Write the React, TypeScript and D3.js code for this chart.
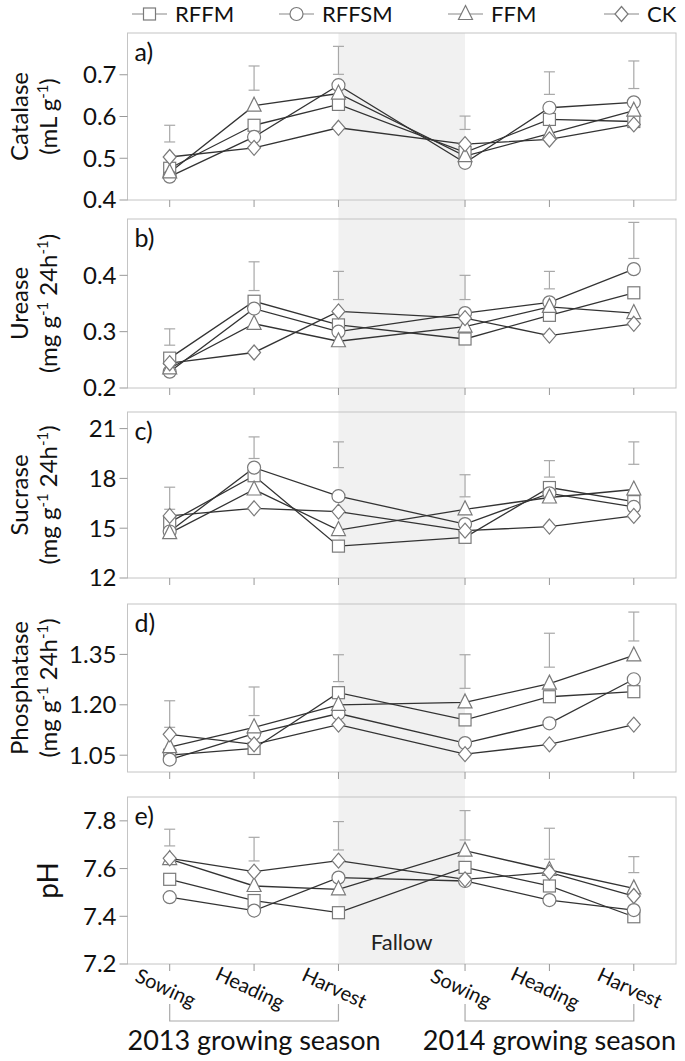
import React from 'react';
import * as d3 from 'd3';

const seriesNames = ['RFFM', 'RFFSM', 'FFM', 'CK'];
const stageLabels = ['Sowing', 'Heading', 'Harvest', 'Sowing', 'Heading', 'Harvest'];
const stagePos = [0, 1, 2, 3.5, 4.5, 5.5];
const seasonLabels = ['2013 growing season', '2014 growing season'];
const fallowLabel = 'Fallow';

// a) Catalase
const catalaseRFFM = [0.476, 0.579, 0.629, 0.514, 0.593, 0.588];
const catalaseRFFSM = [0.456, 0.551, 0.675, 0.489, 0.621, 0.634];
const catalaseFFM = [0.466, 0.626, 0.655, 0.505, 0.559, 0.614];
const catalaseCK = [0.503, 0.525, 0.573, 0.534, 0.545, 0.581];
const catalaseErrLow = [0.539, 0.663, 0.701, 0.569, 0.653, 0.667];
const catalaseErrHigh = [0.579, 0.721, 0.768, 0.601, 0.707, 0.733];
const catalaseTicks = ['0.4', '0.5', '0.6', '0.7'];

// b) Urease
const ureaseRFFM = [0.253, 0.354, 0.312, 0.287, 0.329, 0.369];
const ureaseRFFSM = [0.229, 0.341, 0.300, 0.333, 0.352, 0.411];
const ureaseFFM = [0.235, 0.314, 0.283, 0.309, 0.344, 0.333];
const ureaseCK = [0.244, 0.263, 0.336, 0.324, 0.293, 0.314];
const ureaseErrLow = [0.276, 0.373, 0.357, 0.357, 0.376, 0.430];
const ureaseErrHigh = [0.305, 0.424, 0.407, 0.400, 0.407, 0.494];
const ureaseTicks = ['0.2', '0.3', '0.4'];

// c) Sucrase
const sucraseRFFM = [15.35, 18.16, 13.92, 14.45, 17.45, 16.6];
const sucraseRFFSM = [14.8, 18.65, 16.93, 15.25, 17.1, 16.28];
const sucraseFFM = [14.7, 17.33, 14.89, 16.14, 16.85, 17.33];
const sucraseCK = [15.74, 16.2, 16.0, 14.85, 15.1, 15.74];
const sucraseErrLow = [16.14, 19.2, 18.65, 16.89, 18.08, 18.85];
const sucraseErrHigh = [17.47, 20.5, 20.2, 18.22, 19.07, 20.2];
const sucraseTicks = ['12', '15', '18', '21'];

// d) Phosphatase
const phosRFFM = [1.05, 1.07, 1.236, 1.155, 1.224, 1.239];
const phosRFFSM = [1.037, 1.114, 1.174, 1.086, 1.145, 1.276];
const phosFFM = [1.074, 1.133, 1.2, 1.207, 1.263, 1.347];
const phosCK = [1.112, 1.082, 1.141, 1.053, 1.082, 1.141];
const phosErrLow = [1.133, 1.168, 1.269, 1.249, 1.312, 1.39];
const phosErrHigh = [1.212, 1.253, 1.349, 1.349, 1.413, 1.476];
const phosTicks = ['1.05', '1.20', '1.35'];

// e) pH
const phRFFM = [7.555, 7.466, 7.415, 7.605, 7.527, 7.398];
const phRFFSM = [7.48, 7.424, 7.562, 7.548, 7.468, 7.426];
const phFFM = [7.64, 7.527, 7.513, 7.675, 7.594, 7.517];
const phCK = [7.643, 7.587, 7.633, 7.555, 7.584, 7.485];
const phErrLow = [7.695, 7.632, 7.678, 7.72, 7.639, 7.583];
const phErrHigh = [7.765, 7.731, 7.797, 7.843, 7.769, 7.65];
const phTicks = ['7.2', '7.4', '7.6', '7.8'];

const FONT = "Lato, 'Open Sans', sans-serif";
const W = 685;
const H = 1061;
const LEFT = 127.5;
const RIGHT = 676;

type Seg = { t: string; sup?: boolean };
const unitMg: Seg[] = [{ t: '(mg g' }, { t: '-1', sup: true }, { t: ' 24h' }, { t: '-1', sup: true }, { t: ')' }];

const panels = [
  { tag: 'a)', title: 'Catalase', unit: [{ t: '(mL g' }, { t: '-1', sup: true }, { t: ')' }] as Seg[], domain: [0.4, 0.8], ticks: catalaseTicks, top: 33, bottom: 200, series: [catalaseRFFM, catalaseRFFSM, catalaseFFM, catalaseCK], lo: catalaseErrLow, hi: catalaseErrHigh },
  { tag: 'b)', title: 'Urease', unit: unitMg, domain: [0.2, 0.5], ticks: ureaseTicks, top: 219, bottom: 388, series: [ureaseRFFM, ureaseRFFSM, ureaseFFM, ureaseCK], lo: ureaseErrLow, hi: ureaseErrHigh },
  { tag: 'c)', title: 'Sucrase', unit: unitMg, domain: [12, 22], ticks: sucraseTicks, top: 412, bottom: 578, series: [sucraseRFFM, sucraseRFFSM, sucraseFFM, sucraseCK], lo: sucraseErrLow, hi: sucraseErrHigh },
  { tag: 'd)', title: 'Phosphatase', unit: unitMg, domain: [1.0, 1.5], ticks: phosTicks, top: 604, bottom: 772, series: [phosRFFM, phosRFFSM, phosFFM, phosCK], lo: phosErrLow, hi: phosErrHigh },
  { tag: 'e)', title: 'pH', unit: null as Seg[] | null, domain: [7.2, 7.9], ticks: phTicks, top: 797, bottom: 964, series: [phRFFM, phRFFSM, phFFM, phCK], lo: phErrLow, hi: phErrHigh },
];

const x = d3.scaleLinear().domain([-0.5, 6]).range([LEFT, RIGHT]);

const MSTROKE = '#7a7a7a';

function Marker({ kind, cx, cy }: { kind: number; cx: number; cy: number }) {
  const common = { fill: '#fff', stroke: MSTROKE, strokeWidth: 1.2 };
  if (kind === 0) return <rect x={cx - 6} y={cy - 6} width={12} height={12} {...common} />;
  if (kind === 1) return <circle cx={cx} cy={cy} r={6.5} {...common} />;
  if (kind === 2) return <path d={`M${cx},${cy - 8.5}L${cx + 7},${cy + 5.5}L${cx - 7},${cy + 5.5}Z`} {...common} />;
  return <path d={`M${cx},${cy - 7.5}L${cx + 6.5},${cy}L${cx},${cy + 7.5}L${cx - 6.5},${cy}Z`} {...common} />;
}

function SegText({ segs }: { segs: Seg[] }) {
  const out: any[] = [];
  let raised = false;
  segs.forEach((s, i) => {
    if (s.sup) {
      out.push(<tspan key={i} dy={-9} fontSize="0.62em">{s.t}</tspan>);
      raised = true;
    } else {
      out.push(<tspan key={i} dy={raised ? 9 : 0}>{s.t}</tspan>);
      raised = false;
    }
  });
  return <>{out}</>;
}

function Panel({ p }: { p: typeof panels[number] }) {
  const y = d3.scaleLinear().domain(p.domain).range([p.bottom, p.top]);
  const line = d3.line<number>().x((_, i) => x(stagePos[i])).y((d) => y(d));
  const mid = (p.top + p.bottom) / 2;
  return (
    <g>
      <rect x={LEFT} y={p.top} width={RIGHT - LEFT} height={p.bottom - p.top} fill="none" stroke="#c4c4c4" strokeWidth={1} />
      {p.ticks.map((t) => (
        <g key={t}>
          <line x1={LEFT - 8} x2={LEFT} y1={y(+t)} y2={y(+t)} stroke="#999" />
          <text x={LEFT - 11} y={y(+t)} dy="0.35em" textAnchor="end" fontSize={24} fontFamily={FONT} fill="#111">{t}</text>
        </g>
      ))}
      {stagePos.map((s, i) => (
        <line key={i} x1={x(s)} x2={x(s)} y1={p.bottom} y2={p.bottom + 7} stroke="#999" />
      ))}
      {p.lo.map((lo, i) => {
        const cx = x(stagePos[i]);
        return (
          <g key={i} stroke="#a8a8a8" strokeWidth={1.2}>
            <line x1={cx} x2={cx} y1={y(lo)} y2={y(p.hi[i])} />
            <line x1={cx - 5.5} x2={cx + 5.5} y1={y(lo)} y2={y(lo)} />
            <line x1={cx - 5.5} x2={cx + 5.5} y1={y(p.hi[i])} y2={y(p.hi[i])} />
          </g>
        );
      })}
      {p.series.map((s, k) => (
        <path key={k} d={line(s) || ''} fill="none" stroke="#333" strokeWidth={1.3} />
      ))}
      {p.series.map((s, k) =>
        s.map((v, i) => <Marker key={`${k}-${i}`} kind={k} cx={x(stagePos[i])} cy={y(v)} />)
      )}
      <text x={LEFT + 7} y={p.top + 28} fontSize={25} fontFamily={FONT} fill="#111">{p.tag}</text>
      {p.unit ? (
        <>
          <text transform={`translate(28,${mid}) rotate(-90)`} textAnchor="middle" fontSize={24} fontFamily={FONT} fill="#111">{p.title}</text>
          <text transform={`translate(57,${mid}) rotate(-90)`} textAnchor="middle" fontSize={24} fontFamily={FONT} fill="#111"><SegText segs={p.unit} /></text>
        </>
      ) : (
        <text transform={`translate(58,${mid}) rotate(-90)`} textAnchor="middle" fontSize={28} fontFamily={FONT} fill="#111">{p.title}</text>
      )}
    </g>
  );
}

const legendX = [132, 279, 448, 604];

export default function App() {
  const last = panels[panels.length - 1];
  return (
    <svg width={W} height={H} style={{ position: 'absolute', left: 0, top: 0, background: '#fff' }}>
      <rect x={0} y={0} width={W} height={H} fill="#fff" />
      <rect x={x(2)} y={panels[0].top} width={x(3.5) - x(2)} height={last.bottom - panels[0].top} fill="#f1f1f1" />
      {panels.map((p) => <Panel key={p.tag} p={p} />)}
      <text x={(x(2) + x(3.5)) / 2} y={950} textAnchor="middle" fontSize={22} fontFamily={FONT} fill="#222">{fallowLabel}</text>
      {stageLabels.map((s, i) => (
        <text key={i} transform={`translate(${x(stagePos[i]) - 4},${last.bottom + 24}) rotate(25)`} textAnchor="middle" dy="0.35em" fontSize={20} fontFamily={FONT} fill="#111">{s}</text>
      ))}
      {[[0, 2], [3.5, 5.5]].map(([a, b], i) => (
        <g key={i}>
          <path d={`M${x(a)},${1004}V${1021}H${x(b)}V${1004}`} fill="none" stroke="#aaa" strokeWidth={1.2} />
          <text x={(x(a) + x(b)) / 2} y={1050} textAnchor="middle" fontSize={27} fontFamily={FONT} fill="#111">{seasonLabels[i]}</text>
        </g>
      ))}
      {seriesNames.map((n, k) => (
        <g key={n}>
          <line x1={legendX[k]} x2={legendX[k] + 35} y1={14} y2={14} stroke="#888" strokeWidth={1.2} />
          <Marker kind={k} cx={legendX[k] + 17.5} cy={14} />
          <text x={legendX[k] + 43} y={14} dy="0.36em" fontSize={22} fontFamily={FONT} fill="#111">{n}</text>
        </g>
      ))}
    </svg>
  );
}
